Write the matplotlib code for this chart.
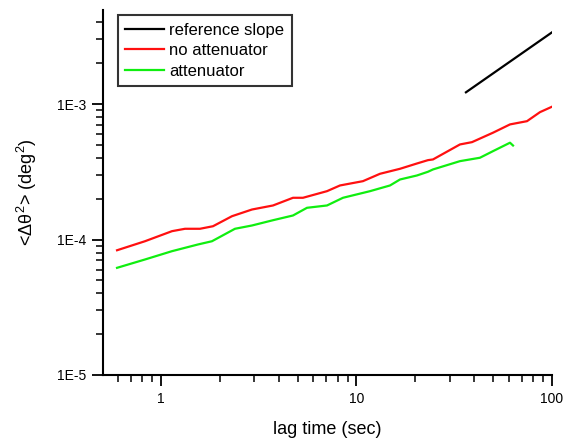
import matplotlib
matplotlib.use("Agg")
import matplotlib.pyplot as plt

plt.rcParams['font.family'] = ['Liberation Sans', 'DejaVu Sans']
plt.rcParams['mathtext.fontset'] = 'custom'
plt.rcParams['mathtext.rm'] = 'Liberation Sans'
plt.rcParams['mathtext.it'] = 'Liberation Sans'

# Mean squared angular displacement vs lag time
ref_x = [36.3, 100.0]
ref_y = [1.22e-3, 3.38e-3]

no_att_x = [0.596, 0.828, 1.138, 1.327, 1.583, 1.845, 2.308, 2.921, 3.741,
            4.734, 5.325, 7.066, 8.233, 10.79, 13.19, 16.70, 20.39, 23.21,
            24.62, 33.83, 38.97, 49.92, 60.98, 74.50, 86.83, 100.0]
no_att_y = [8.33e-5, 9.71e-5, 1.152e-4, 1.20e-4, 1.20e-4, 1.253e-4, 1.486e-4,
            1.665e-4, 1.783e-4, 2.032e-4, 2.032e-4, 2.274e-4, 2.505e-4,
            2.695e-4, 3.055e-4, 3.326e-4, 3.64e-4, 3.852e-4, 3.898e-4,
            5.03e-4, 5.23e-4, 6.14e-4, 7.07e-4, 7.47e-4, 8.71e-4, 9.55e-4]

att_x = [0.596, 0.828, 1.138, 1.546, 1.823, 2.39, 2.921, 3.741, 4.734, 5.582,
         7.066, 8.53, 11.73, 14.84, 16.70, 20.39, 23.21, 24.62, 33.83, 42.8,
         49.92, 60.98, 63.2]
att_y = [6.18e-5, 7.12e-5, 8.2e-5, 9.19e-5, 9.71e-5, 1.2e-4, 1.269e-4,
         1.388e-4, 1.504e-4, 1.714e-4, 1.783e-4, 2.032e-4, 2.274e-4,
         2.505e-4, 2.773e-4, 2.969e-4, 3.162e-4, 3.289e-4, 3.787e-4,
         4.012e-4, 4.488e-4, 5.18e-4, 4.94e-4]

fig = plt.figure(figsize=(5.68, 4.43), dpi=100)
ax = fig.add_axes([0.1813, 0.1535, 0.7905, 0.8239])

ax.plot(ref_x, ref_y, color='black', lw=1.6, label='reference slope')
ax.plot(no_att_x, no_att_y, color='#ff1010', lw=1.6, label='no attenuator')
ax.plot(att_x, att_y, color='#10ee10', lw=1.6, label='attenuator')

ax.set_xscale('log')
ax.set_yscale('log')
ax.set_xlim(0.505, 100)
ax.set_ylim(1e-5, 4.94e-3)

ax.spines['top'].set_visible(False)
ax.spines['right'].set_visible(False)
for s in ('left', 'bottom'):
    ax.spines[s].set_linewidth(1.5)

ax.set_xticks([1, 10, 100])
ax.set_xticklabels(['1', '10', '100'])
ax.set_yticks([1e-5, 1e-4, 1e-3])
ax.set_yticklabels(['1E-5', '1E-4', '1E-3'])
ax.tick_params(which='major', direction='out', length=8, width=1.3, labelsize=10, pad=4)
ax.tick_params(which='minor', direction='out', length=5, width=1.1)
ax.tick_params(axis='x', which='minor', labelbottom=False)
ax.tick_params(axis='y', which='minor', labelleft=False)

ax.set_xlabel('lag time (sec)', fontsize=13, labelpad=11)
ax.set_ylabel(r'<$\Delta\theta^2$> (deg$^2$)', fontsize=13, labelpad=13)

leg = ax.legend(loc='upper left', bbox_to_anchor=(0.033, 0.985), fontsize=12,
                frameon=True, fancybox=False, edgecolor='black',
                handlelength=2.3, handletextpad=0.35, borderpad=0.45,
                labelspacing=0.32, borderaxespad=0)
leg.get_frame().set_linewidth(1.5)

fig.savefig('out.png', dpi=100)
